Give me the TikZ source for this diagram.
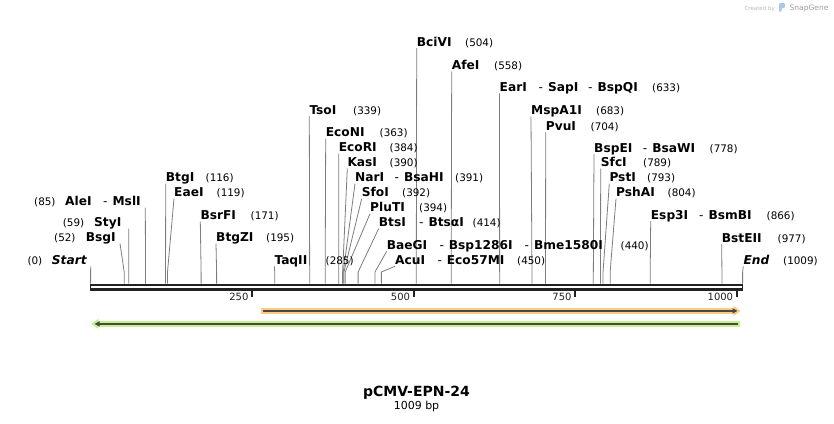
\documentclass[tikz,border=0pt]{standalone}
\usepackage{fontspec}
\setmainfont{DejaVu Sans}
\usetikzlibrary{positioning,arrows.meta}

\definecolor{sitegray}{RGB}{125,125,125}
\definecolor{rulerblack}{RGB}{34,34,34}
\definecolor{featorange}{RGB}{250,203,128}
\definecolor{featgreen}{RGB}{198,242,142}
\definecolor{featdark}{RGB}{72,72,72}
\definecolor{logoblue}{RGB}{170,200,232}

\def\bpscale{0.6462}
\def\bpzero{90.6}

\tikzset{
  enz/.style={anchor=base west, inner sep=0pt, font=\fontsize{12.2}{13}\selectfont\bfseries},
  enzpos/.style={anchor=base west, inner sep=0pt, font=\fontsize{10.4}{12}\selectfont},
  cutline/.style={draw=sitegray, line width=0.8pt},
  rulerline/.style={draw=rulerblack, line width=#1},
  ticklabel/.style={anchor=base east, inner sep=0pt, font=\fontsize{10}{12}\selectfont, text=rulerblack}
}

\begin{document}
\begin{tikzpicture}[x=1pt, y=-1pt, line cap=butt]
  \useasboundingbox (0,0) rectangle (834,423);

  % cut sites, label to the right of the line
  \foreach \bp/\tx/\ty/\lab/\nx [evaluate={\cx=\bpzero+\bpscale*\bp;}] in {
      504/416.7/46/BciVI/465,
      558/451.7/69.3/AfeI/494,
      633/499.5/91.3/EarI/652,
      339/309.3/114/TsoI/353,
      683/531/114.5/MspA1I/596,
      363/325.7/136.5/EcoNI/379.5,
      704/545.7/130/PvuI/590.5,
      384/338.7/151.7/EcoRI/389.5,
      778/594/152/BspEI/709.5,
      390/347.3/166.5/KasI/389.5,
      789/600.7/166.7/SfcI/643,
      391/355/181.7/NarI/455,
      793/609.3/181.7/PstI/647,
      392/361.7/196.7/SfoI/402,
      804/616/196.7/PshAI/667.5,
      116/165.7/181.5/BtgI/205.5,
      119/174/196.5/EaeI/216.5,
      394/370/211.7/PluTI/419,
      171/200.3/219.5/BsrFI/250.5,
      866/650.7/219/Esp3I/766.5,
      414/378.7/226.5/BtsI/472.5,
      195/216/241.5/BtgZI/266,
      977/721.7/242/BstEII/777.5,
      440/386.7/249.3/BaeGI/620.5,
      285/274.3/264.3/TaqII/325.5,
      450/395/264.3/AcuI/517,
      1009/743.3/264.3/\textit{End}/783}{
    \draw [cutline] (\cx,283.5) -- (\cx,272) -- (\tx,\ty+2);
    \node [enz] (s\bp) at (\tx,\ty) {\lab};
    \node [enzpos] (n\bp) at (\nx,\ty) {(\bp)};
  }

  % cut sites, label to the left of the line
  \foreach \bp/\tx/\ty/\lab/\lx/\nx [evaluate={\cx=\bpzero+\bpscale*\bp;}] in {
      85/145.3/205.5/AleI/65/34,
      59/128.7/226.5/StyI/94/62.7,
      52/120/241.5/BsgI/85.7/54,
      0/90.7/264.3/\textit{Start}/51.7/27.3}{
    \draw [cutline] (\cx,283.5) -- (\cx,272) -- (\tx,\ty+2);
    \node [enz] (s\bp) at (\lx,\ty) {\lab};
    \node [enzpos] (n\bp) at (\nx,\ty) {(\bp)};
  }

  % isoschizomers sharing a site
  \foreach \dx/\ty/\lab [count=\i] in {
      538.5/91.3/SapI, 588/91.3/BspQI,
      642.7/152/BsaWI,
      394.5/181.7/BsaHI,
      699/219/BsmBI,
      419/226.5/BtsαI,
      439.3/249.3/Bsp1286I, 524.5/249.3/Bme1580I,
      437.3/264.3/Eco57MI,
      103/205.5/MslI}{
    \node [enz] (iso\i) at (\dx,\ty) {{\mdseries -}\hspace{5pt}\lab};
  }

  % ruler
  \draw [rulerline=2.2pt] (\bpzero,285) -- (743,285);
  \draw [rulerline=2.8pt] (\bpzero,289.4) -- (743,289.4);
  \draw [rulerline=1.4pt] (\bpzero,283.8) -- (\bpzero,290.8);
  \draw [rulerline=1.4pt] (742.6,283.8) -- (742.6,290.8);
  \foreach \t [evaluate={\cx=\bpzero+\bpscale*\t;}] in {250,500,750,1000}{
    \draw [rulerline=2pt] (\cx,290) -- (\cx,296.8);
    \node [ticklabel] (tick\t) at (\cx-3.5,300.7) {\t};
  }

  % features
  \draw [featorange, line width=5.6pt, -{Triangle[length=7pt,width=10pt]}]
    (261,310.9) -- (740.5,310.9);
  \draw [featdark, line width=1.4pt, -{Triangle[length=5pt,width=5pt]}]
    (263,310.9) -- (737.5,310.9);
  \draw [featgreen, line width=5.6pt, {Triangle[length=7pt,width=10pt]}-]
    (91.3,323.9) -- (740,323.9);
  \draw [featdark, line width=1.4pt, {Triangle[length=5pt,width=5pt]}-]
    (94.5,323.9) -- (737.5,323.9);

  % title
  \node [anchor=base, inner sep=0pt, font=\fontsize{14}{16}\selectfont\bfseries]
    (title) at (416.5,396.7) {pCMV-EPN-24};
  \node [below=1pt of title, inner sep=0pt, font=\fontsize{11}{13}\selectfont]
    (length) {1009 bp};

  % credit
  \node [anchor=base east, inner sep=0pt, font=\fontsize{5.5}{7}\selectfont, text=black!28]
    (credit) at (775,10) {Created by};
  \fill [logoblue, rounded corners=1.2pt] (779,12) -- (779,3) -- (785,3) -- (785,8)
    -- (781.5,8) -- (781.5,12) -- cycle;
  \node [anchor=base west, inner sep=0pt, font=\fontsize{7.5}{9}\selectfont, text=black!38]
    (snapgene) at (789.5,10.5) {SnapGene};
\end{tikzpicture}
\end{document}
